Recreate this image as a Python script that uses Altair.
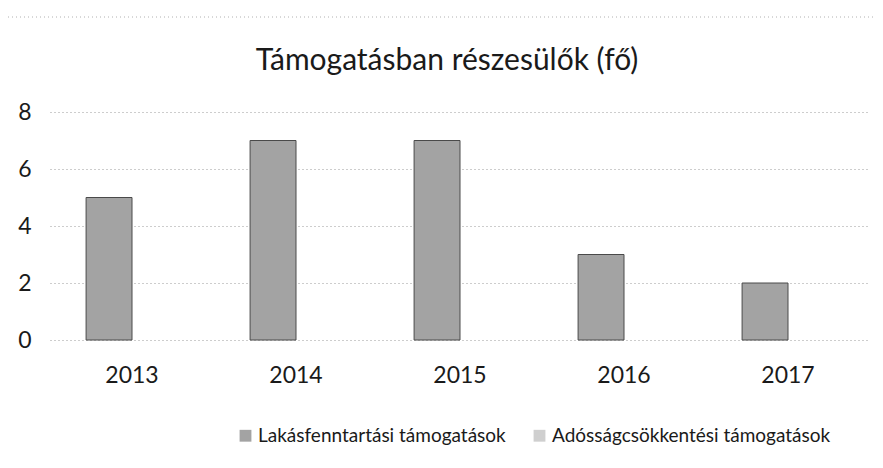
import altair as alt
import pandas as pd

years = ["2013", "2014", "2015", "2016", "2017"]
lakas = [5, 7, 7, 3, 2]
adossag = [0, 0, 0, 0, 0]
series_names = ["Lakásfenntartási támogatások", "Adósságcsökkentési támogatások"]
y_ticks = [0, 2, 4, 6, 8]
title_text = "Támogatásban részesülők (fő)"

rows = []
for yr, a, b in zip(years, lakas, adossag):
    rows.append({"year": yr, "series": series_names[0], "value": a})
    rows.append({"year": yr, "series": series_names[1], "value": b})
df = pd.DataFrame(rows)

FONT = "Lato"

bars = alt.Chart(df).mark_bar(strokeWidth=1).encode(
    x=alt.X("year:N", sort=years,
            scale=alt.Scale(paddingInner=0.44, paddingOuter=0.22),
            axis=alt.Axis(title=None, labelAngle=0, ticks=False, domain=False,
                          labelFontSize=23, labelFont=FONT, labelColor="#1a1a1a",
                          labelPadding=24)),
    xOffset=alt.XOffset("series:N", sort=series_names,
                        scale=alt.Scale(paddingInner=0, paddingOuter=0)),
    y=alt.Y("value:Q",
            scale=alt.Scale(domain=[0, 8], nice=False),
            axis=alt.Axis(title=None, values=y_ticks, ticks=False, domain=False,
                          labelFontSize=23, labelFont=FONT, labelColor="#1a1a1a",
                          labelPadding=19,
                          grid=True, gridColor="#9a9a9a", gridDash=[1, 3], gridWidth=1)),
    color=alt.Color("series:N", sort=series_names,
                    scale=alt.Scale(domain=series_names, range=["#a3a3a3", "#cfcfcf"]),
                    legend=alt.Legend(title=None, orient="none", direction="horizontal",
                                      legendX=186, legendY=314,
                                      symbolType="square", symbolSize=140,
                                      symbolStrokeWidth=0, labelLimit=0,
                                      labelFontSize=19, labelFont=FONT, labelColor="#1a1a1a",
                                      columnPadding=24, labelOffset=3)),
    stroke=alt.Stroke("series:N", sort=series_names,
                      scale=alt.Scale(domain=series_names, range=["#4a4a4a", "transparent"]),
                      legend=None),
)

border = alt.Chart(pd.DataFrame({"k": [0]})).mark_rule(
    color="#b0b0b0", strokeDash=[1, 3], strokeWidth=1
).encode(x=alt.value(-50), x2=alt.value(833), y=alt.value(-95))

title = alt.Chart(pd.DataFrame({"t": [title_text]})).mark_text(
    fontSize=30, font=FONT, color="#1a1a1a", align="center", baseline="alphabetic"
).encode(text="t:N", x=alt.value(397), y=alt.value(-42))

chart = alt.layer(bars, border, title).properties(
    width=820, height=228,
    autosize=alt.AutoSizeParams(type="none"),
    padding={"left": 42, "top": 104, "right": 5, "bottom": 120},
).configure_view(stroke=None)

chart.save("out.html", embed_options={"renderer": "svg", "actions": False})
